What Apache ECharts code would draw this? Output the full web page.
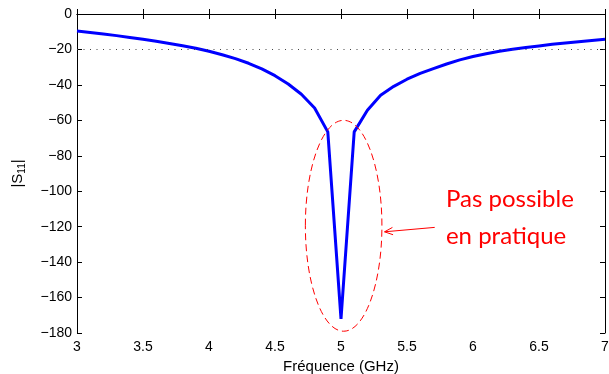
<!DOCTYPE html>
<html>
<head>
<meta charset="utf-8">
<script src="https://cdn.jsdelivr.net/npm/echarts@6/dist/echarts.min.js"></script>
<style>
  html, body { margin: 0; padding: 0; background: #fff; }
  #chart { width: 609px; height: 374px; }
</style>
</head>
<body>
<div id="chart"></div>
<script>
// frequency samples (GHz) and |S11| (dB)
const freqGHz = [
  3.0, 3.1, 3.2, 3.3, 3.4, 3.5, 3.6, 3.7, 3.8, 3.9,
  4.0, 4.1, 4.2, 4.3, 4.4, 4.5, 4.6, 4.7, 4.8, 4.9,
  5.0,
  5.1, 5.2, 5.3, 5.4, 5.5, 5.6, 5.7, 5.8, 5.9, 6.0,
  6.1, 6.2, 6.3, 6.4, 6.5, 6.6, 6.7, 6.8, 6.9, 7.0
];
const s11dB = [
  -9.6, -10.4, -11.3, -12.2, -13.2, -14.3, -15.4, -16.6, -17.9, -19.3,
  -21.0, -23.0, -25.2, -27.8, -31.0, -34.8, -39.5, -45.3, -53.0, -66.5,
  -172,
  -66.5, -54.3, -45.8, -40.8, -36.8, -33.5, -30.8, -28.2, -25.9, -24.0,
  -22.4, -21.0, -19.9, -18.9, -18.0, -17.1, -16.3, -15.6, -14.9, -14.3
];
const refLevel = -20;

// annotation: dashed ellipse round the dip, arrow and note
const ellipseCenter = [5.02, -119.5];
const ellipseRadius = [0.29, 59.5];
const arrowFrom = [5.71, -120.4];
const arrowTo = [5.33, -122.9];
const noteLines = ["Pas possible", "en pratique"];
const notePos = [[5.795, -104.4], [5.795, -125.3]];

const minus = (v) => (v < 0 ? "\u2212" + (-v) : String(v));
const labelFont = { color: "#000", fontSize: 14, fontFamily: "Liberation Sans, Arial, sans-serif" };

const chart = echarts.init(document.getElementById("chart"), null, { renderer: "canvas" });

chart.setOption({
  animation: false,
  backgroundColor: "#fff",
  grid: { left: 77, right: 4, top: 14, bottom: 41, containLabel: false, outerBoundsMode: "none" },
  xAxis: [
    {
      type: "value",
      min: 3,
      max: 7,
      interval: 0.5,
      name: "Fréquence (GHz)",
      nameLocation: "middle",
      nameGap: 26,
      nameTextStyle: { ...labelFont, fontSize: 15 },
      axisLine: { show: true, lineStyle: { color: "#000", width: 1 } },
      axisTick: { show: true, inside: true, length: 5, lineStyle: { color: "#000" } },
      axisLabel: { ...labelFont, margin: 7 },
      splitLine: { show: false },
    },
    {
      type: "value",
      position: "top",
      min: 3,
      max: 7,
      interval: 0.5,
      axisLine: { show: true, lineStyle: { color: "#000", width: 1 } },
      axisTick: { show: true, inside: true, length: 5, lineStyle: { color: "#000" } },
      axisLabel: { show: false },
      splitLine: { show: false },
    },
  ],
  yAxis: [
    {
      type: "value",
      min: -180,
      max: 0,
      interval: 20,
      name: "{n||S}{s|11}{n||}",
      nameLocation: "middle",
      nameRotate: 90,
      nameGap: 50,
      nameTextStyle: {
        ...labelFont,
        rich: {
          n: { fontSize: 15, fontFamily: "Liberation Sans, Arial, sans-serif", color: "#000", verticalAlign: "middle" },
          s: { fontSize: 10, fontFamily: "Liberation Sans, Arial, sans-serif", color: "#000", padding: [9, 0, 0, 0] },
        },
      },
      axisLine: { show: true, lineStyle: { color: "#000", width: 1 } },
      axisTick: { show: true, inside: true, length: 5, lineStyle: { color: "#000" } },
      axisLabel: { ...labelFont, margin: 5, formatter: minus },
      splitLine: { show: false },
    },
    {
      type: "value",
      position: "right",
      min: -180,
      max: 0,
      interval: 20,
      axisLine: { show: true, lineStyle: { color: "#000", width: 1 } },
      axisTick: { show: true, inside: true, length: 5, lineStyle: { color: "#000" } },
      axisLabel: { show: false },
      splitLine: { show: false },
    },
  ],
  series: [
    {
      type: "line",
      data: freqGHz.map((f, i) => [f, s11dB[i]]),
      showSymbol: false,
      lineStyle: { color: "#0000ff", width: 3 },
      z: 3,
      markLine: {
        silent: true,
        symbol: ["none", "none"],
        label: { show: false },
        lineStyle: { color: "#444", width: 1, type: [1, 5.5] },
        data: [{ yAxis: refLevel }],
      },
    },
    {
      type: "custom",
      clip: false,
      silent: true,
      z: 4,
      data: [ellipseCenter],
      renderItem: (params, api) => {
        const c = api.coord(ellipseCenter);
        const r = api.size(ellipseRadius);
        const a0 = api.coord(arrowFrom);
        const a1 = api.coord(arrowTo);
        const ang = Math.atan2(a0[1] - a1[1], a0[0] - a1[0]);
        const hl = 9, spread = 0.42;
        const head = [
          [a1[0] + hl * Math.cos(ang + spread), a1[1] + hl * Math.sin(ang + spread)],
          [a1[0], a1[1]],
          [a1[0] + hl * Math.cos(ang - spread), a1[1] + hl * Math.sin(ang - spread)],
        ];
        const red = "#ff0000";
        const children = [
          {
            type: "ellipse",
            shape: { cx: c[0], cy: c[1], rx: r[0], ry: r[1] },
            style: { fill: "none", stroke: red, lineWidth: 1, lineDash: [7, 4] },
          },
          {
            type: "line",
            shape: { x1: a0[0], y1: a0[1], x2: a1[0], y2: a1[1] },
            style: { stroke: red, lineWidth: 1 },
          },
          {
            type: "polyline",
            shape: { points: head },
            style: { fill: "none", stroke: red, lineWidth: 1 },
          },
        ];
        noteLines.forEach((t, i) => {
          const p = api.coord(notePos[i]);
          children.push({
            type: "text",
            style: {
              text: t,
              x: p[0],
              y: p[1],
              fill: red,
              fontSize: 24,
              fontFamily: "Lato, 'Open Sans', sans-serif",
              align: "left",
              verticalAlign: "middle",
            },
          });
        });
        return { type: "group", children };
      },
    },
  ],
});

window.addEventListener("resize", () => chart.resize());
</script>
</body>
</html>
